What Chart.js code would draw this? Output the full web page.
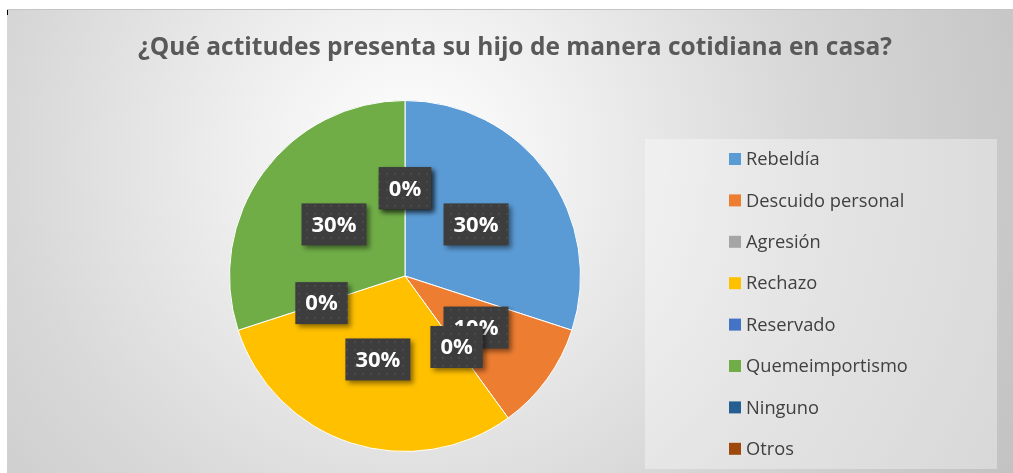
<!DOCTYPE html>
<html>
<head>
<meta charset="utf-8">
<script src="https://cdn.jsdelivr.net/npm/chart.js@4/dist/chart.umd.min.js"></script>
<style>
  html, body { margin: 0; padding: 0; background: #fff; }
  #wrap {
    position: absolute; left: 7px; top: 9px; width: 1006px; height: 464px;
    border-top: 1px solid #c4c4c4; box-sizing: border-box;
    background: radial-gradient(circle farthest-corner at 40% 32%, #ffffff 0%, #f2f2f2 20%, #d8d8d8 58%, #c2c2c2 100%);
  }
  #tick { position: absolute; left: 7px; top: 10px; width: 1px; height: 5px; background: #000; }
</style>
</head>
<body>
<div id="wrap"><canvas id="chart" width="1006" height="464"></canvas></div>
<div id="tick"></div>
<script>
// Datos del gráfico
const titulo = '¿Qué actitudes presenta su hijo de manera cotidiana en casa?';
const categorias = ['Rebeldía', 'Descuido personal', 'Agresión', 'Rechazo', 'Reservado', 'Quemeimportismo', 'Ninguno', 'Otros'];
const valores = [30, 10, 0, 30, 0, 30, 0, 0];
const colores = ['#5B9BD5', '#ED7D31', '#A5A5A5', '#FFC000', '#4472C4', '#70AD47', '#255E91', '#9E480E'];

// Patrón de puntos para las etiquetas
function crearPatron(ctx) {
    const c = document.createElement('canvas');
    c.width = 8; c.height = 8;
    const p = c.getContext('2d');
    p.fillStyle = '#3d3d3d';
    p.fillRect(0, 0, 8, 8);
    p.fillStyle = '#4a4a4a';
    p.fillRect(3, 3, 2, 2);
    return ctx.createPattern(c, 'repeat');
}

// Título (dibujado aparte para que no lo comprima el padding)
const tituloPlugin = {
    id: 'titulo',
    afterDraw(chart) {
        const ctx = chart.ctx;
        ctx.save();
        ctx.font = 'bold 24.5px "Open Sans"';
        ctx.fillStyle = '#595959';
        ctx.textAlign = 'center';
        ctx.textBaseline = 'middle';
        ctx.fillText(titulo, 508, 38);
        ctx.restore();
    }
};

// Etiquetas de porcentaje con caja oscura
const etiquetasPlugin = {
    id: 'etiquetas',
    afterDatasetsDraw(chart) {
        const ctx = chart.ctx;
        const meta = chart.getDatasetMeta(0);
        const data = chart.data.datasets[0].data;
        const total = data.reduce((a, b) => a + b, 0);
        const patron = crearPatron(ctx);
        ctx.save();
        ctx.font = 'bold 22px "Open Sans"';
        ctx.textAlign = 'center';
        ctx.textBaseline = 'middle';
        meta.data.forEach((arc, i) => {
            const pos = arc.tooltipPosition();
            const texto = Math.round(data[i] / total * 100) + '%';
            const w = ctx.measureText(texto).width + 20;
            const h = 42;
            ctx.save();
            ctx.shadowColor = 'rgba(0,0,0,0.45)';
            ctx.shadowBlur = 5;
            ctx.shadowOffsetX = 3;
            ctx.shadowOffsetY = 3;
            ctx.fillStyle = patron;
            ctx.fillRect(pos.x - w / 2, pos.y - h / 2, w, h);
            ctx.restore();
            ctx.fillStyle = '#ffffff';
            ctx.fillText(texto, pos.x, pos.y + 1);
        });
        ctx.restore();
    }
};

// Leyenda dibujada a mano
const leyendaPlugin = {
    id: 'leyenda',
    afterDraw(chart) {
        const ctx = chart.ctx;
        ctx.save();
        ctx.fillStyle = 'rgba(255,255,255,0.35)';
        ctx.fillRect(638, 129, 352, 330);
        ctx.font = '18.3px "Open Sans"';
        ctx.textBaseline = 'middle';
        chart.data.labels.forEach((lab, i) => {
            const y = 149 + i * 41.4;
            ctx.fillStyle = chart.data.datasets[0].backgroundColor[i];
            ctx.fillRect(722, y - 6, 12, 12);
            ctx.fillStyle = '#404040';
            ctx.fillText(lab, 739, y + 1);
        });
        ctx.restore();
    }
};

new Chart(document.getElementById('chart'), {
    type: 'pie',
    data: {
        labels: categorias,
        datasets: [{
            data: valores,
            backgroundColor: colores,
            borderColor: '#ffffff',
            borderWidth: ctx => (valores[ctx.dataIndex] > 0 ? 1 : 0)
        }]
    },
    options: {
        responsive: false,
        animation: false,
        layout: { padding: { left: 222, right: 432, bottom: 22, top: 90 } },
        plugins: {
            legend: { display: false },
            tooltip: { enabled: false },
            title: { display: false }
        }
    },
    plugins: [etiquetasPlugin, leyendaPlugin, tituloPlugin]
});
</script>
</body>
</html>
